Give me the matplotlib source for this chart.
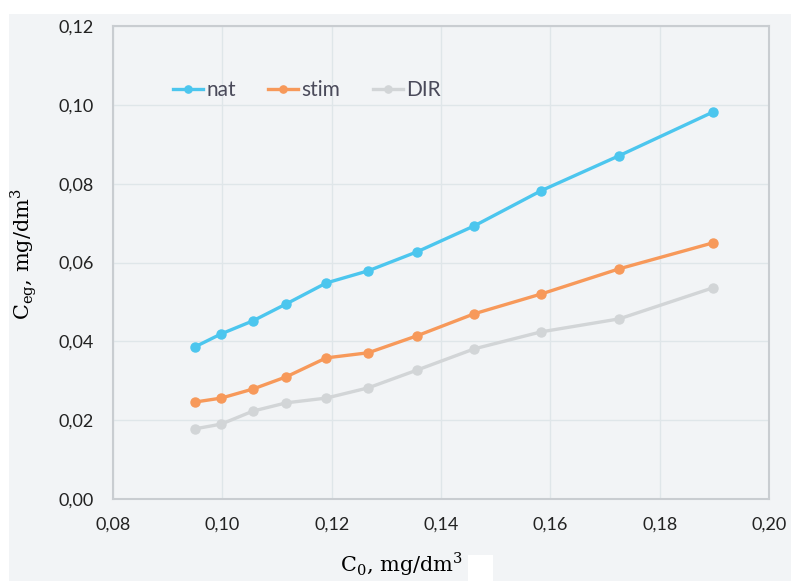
import numpy as np
import matplotlib.pyplot as plt
from matplotlib.ticker import FuncFormatter
from matplotlib.patches import Rectangle

# data
c0 = [0.0950, 0.0998, 0.1056, 0.1117, 0.1190, 0.1267, 0.1356, 0.1461, 0.1583, 0.1726, 0.1898]
nat = [0.0386, 0.0419, 0.0452, 0.0495, 0.0548, 0.0579, 0.0627, 0.0693, 0.0782, 0.0871, 0.0982]
stim = [0.0246, 0.0256, 0.0279, 0.0310, 0.0358, 0.0371, 0.0414, 0.0470, 0.0520, 0.0584, 0.0650]
dir_ = [0.0178, 0.0190, 0.0223, 0.0244, 0.0256, 0.0282, 0.0327, 0.0381, 0.0424, 0.0457, 0.0536]

bg = "#f2f4f6"
fig = plt.figure(figsize=(7.91, 5.81), dpi=100, facecolor="white")
fig.patches.append(Rectangle((9 / 791, 0), 1, (581 - 14) / 581, transform=fig.transFigure,
                             facecolor=bg, edgecolor="none", zorder=-10))
# small white box after the x label
fig.patches.append(Rectangle((468 / 791, 0), 25 / 791, 26 / 581, transform=fig.transFigure,
                             facecolor="white", edgecolor="none", zorder=-5))
ax = fig.add_axes([113 / 791, 82 / 581, 656 / 791, 473 / 581])
ax.set_facecolor(bg)

ax.plot(c0, nat, "-o", color="#4cc6ee", lw=2.4, ms=6.5, label="nat")
ax.plot(c0, stim, "-o", color="#f7995a", lw=2.4, ms=6.5, label="stim")
ax.plot(c0, dir_, "-o", color="#d2d5d7", lw=2.4, ms=6.5, label="DIR")

ax.set_xlim(0.08, 0.20)
ax.set_ylim(0.0, 0.12)
ax.set_xticks(np.arange(0.08, 0.201, 0.02))
ax.set_yticks(np.arange(0.0, 0.121, 0.02))
fmt = FuncFormatter(lambda v, p: f"{v:.2f}".replace(".", ","))
ax.xaxis.set_major_formatter(fmt)
ax.yaxis.set_major_formatter(fmt)
ax.tick_params(length=0, labelsize=13, labelcolor="#222222")
ax.tick_params(axis="x", pad=13)
ax.tick_params(axis="y", pad=14)
for lab in ax.get_xticklabels() + ax.get_yticklabels():
    lab.set_family("Lato")
ax.grid(True, color="#dfe6e9", lw=1)
ax.set_axisbelow(True)
for s in ax.spines.values():
    s.set_color("#c9cdd1")
    s.set_linewidth(1.5)

ax.set_xlabel(r"C$_{\mathregular{0}}$, mg/dm$^{\mathregular{3}}$", family="DejaVu Serif",
              fontsize=15)
ax.set_ylabel(r"C$_{\mathregular{eg}}$, mg/dm$^{\mathregular{3}}$", family="DejaVu Serif",
              fontsize=15)
ax.xaxis.set_label_coords((402 - 113) / 656, -(550 - 499) / 473)
ax.yaxis.set_label_coords(-(113 - 39) / 656, (499 - 254) / 473)

leg = ax.legend(loc="center left", bbox_to_anchor=((173 - 113) / 656, (499 - 90) / 473), ncol=3,
                frameon=False, borderaxespad=0, borderpad=0, markerscale=0.8,
                handlelength=1.45, handletextpad=0.15, columnspacing=1.55,
                prop={"family": "Lato", "size": 15})
for t in leg.get_texts():
    t.set_color("#4a4a5a")

fig.savefig("out.png", dpi=100, facecolor=fig.get_facecolor())
